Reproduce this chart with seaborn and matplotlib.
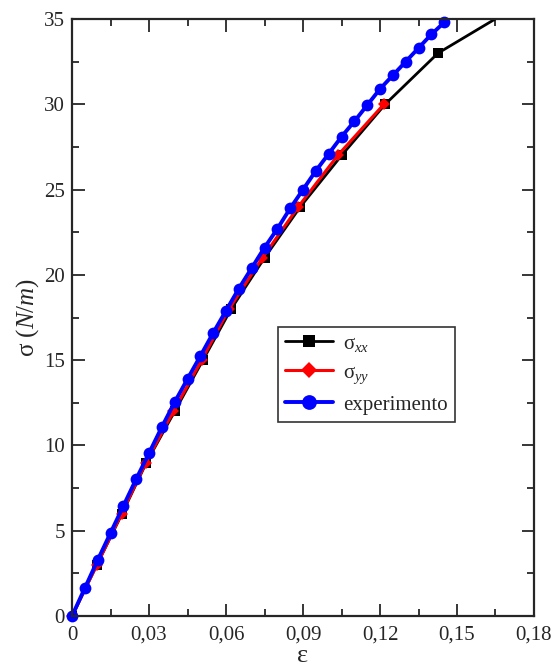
"""Stress-strain curves: simulation (xx, yy) vs experiment"""

import matplotlib
matplotlib.use("Agg")
import matplotlib.pyplot as plt
from matplotlib.ticker import MultipleLocator
import seaborn as sns

# data
strain_xx = [0, 0.0097, 0.0195, 0.029, 0.040, 0.051, 0.062, 0.075, 0.089,
             0.105, 0.122, 0.1426, 0.176]
stress_xx = [0, 3, 6, 9, 12, 15, 18, 21, 24, 27, 30, 33, 36]

strain_yy = [0, 0.0097, 0.0193, 0.0288, 0.0395, 0.0505, 0.0612, 0.0742,
             0.0882, 0.1035, 0.1215]
stress_yy = [0, 3, 6, 9, 12, 15, 18, 21, 24, 27, 30]

strain_exp = [0, 0.005, 0.010, 0.015, 0.020, 0.025, 0.030, 0.035, 0.040,
              0.045, 0.050, 0.055, 0.060, 0.065, 0.070, 0.075, 0.080, 0.085,
              0.090, 0.095, 0.100, 0.105, 0.110, 0.115, 0.120, 0.125, 0.130,
              0.135, 0.140, 0.145]
stress_exp = [0, 1.64, 3.28, 4.87, 6.45, 8.03, 9.55, 11.08, 12.54, 13.9,
              15.24, 16.6, 17.9, 19.2, 20.4, 21.6, 22.7, 23.9, 25.0, 26.1,
              27.1, 28.1, 29.0, 29.95, 30.9, 31.7, 32.5, 33.3, 34.1, 34.8]

x_ticks = [0, 0.03, 0.06, 0.09, 0.12, 0.15, 0.18]
x_tick_labels = ["0", "0,03", "0,06", "0,09", "0,12", "0,15", "0,18"]
y_ticks = [0, 5, 10, 15, 20, 25, 30, 35]


def main() -> None:
    """Draw the chart and save it"""
    sns.set_style("ticks")
    plt.rcParams["font.family"] = ["Liberation Serif", "DejaVu Serif"]
    plt.rcParams["mathtext.fontset"] = "custom"
    plt.rcParams["mathtext.rm"] = "Liberation Serif"
    plt.rcParams["mathtext.it"] = "Liberation Serif:italic"

    fig = plt.figure(figsize=(5.57, 6.68), dpi=100)
    ax = fig.add_axes([0.1293, 0.0778, 0.8294, 0.8937])

    sns.lineplot(x=strain_xx, y=stress_xx, ax=ax, sort=False, estimator=None,
                 color="black", lw=2, marker="s", markersize=7, mew=0,
                 label="σ$_{xx}$")
    sns.lineplot(x=strain_yy, y=stress_yy, ax=ax, sort=False, estimator=None,
                 color="red", lw=2.2, marker="D", markersize=6.5, mew=0,
                 label="σ$_{yy}$", clip_on=False)
    sns.lineplot(x=strain_exp, y=stress_exp, ax=ax, sort=False, estimator=None,
                 color="blue", lw=2.8, marker="o", markersize=8.5, mew=0,
                 label="experimento", clip_on=False)

    ax.set_xlim(0, 0.18)
    ax.set_ylim(0, 35)
    ax.set_xticks(x_ticks)
    ax.set_xticklabels(x_tick_labels)
    ax.set_yticks(y_ticks)
    ax.xaxis.set_minor_locator(MultipleLocator(0.015))
    ax.yaxis.set_minor_locator(MultipleLocator(2.5))
    ax.tick_params(which="both", direction="in", top=True, right=True,
                   width=1.3, labelsize=15)
    ax.tick_params(axis="x", pad=7)
    ax.tick_params(axis="y", pad=5)
    ax.tick_params(which="major", length=9)
    ax.tick_params(which="minor", length=5)
    for spine in ax.spines.values():
        spine.set_linewidth(1.6)

    ax.set_xlabel("ε", fontsize=19, labelpad=0)
    ax.set_ylabel("σ $\\mathit{(N/m)}$", fontsize=18, labelpad=2)

    leg = ax.legend(loc="upper left", bbox_to_anchor=(0.423, 0.502),
                    fontsize=15, frameon=True, fancybox=False,
                    edgecolor="black", handlelength=2.3, borderpad=0.35,
                    labelspacing=0.45, handletextpad=0.5, markerscale=1.25)
    leg.get_frame().set_linewidth(1.2)

    fig.savefig("out.png", dpi=100)


if __name__ == "__main__":
    main()
